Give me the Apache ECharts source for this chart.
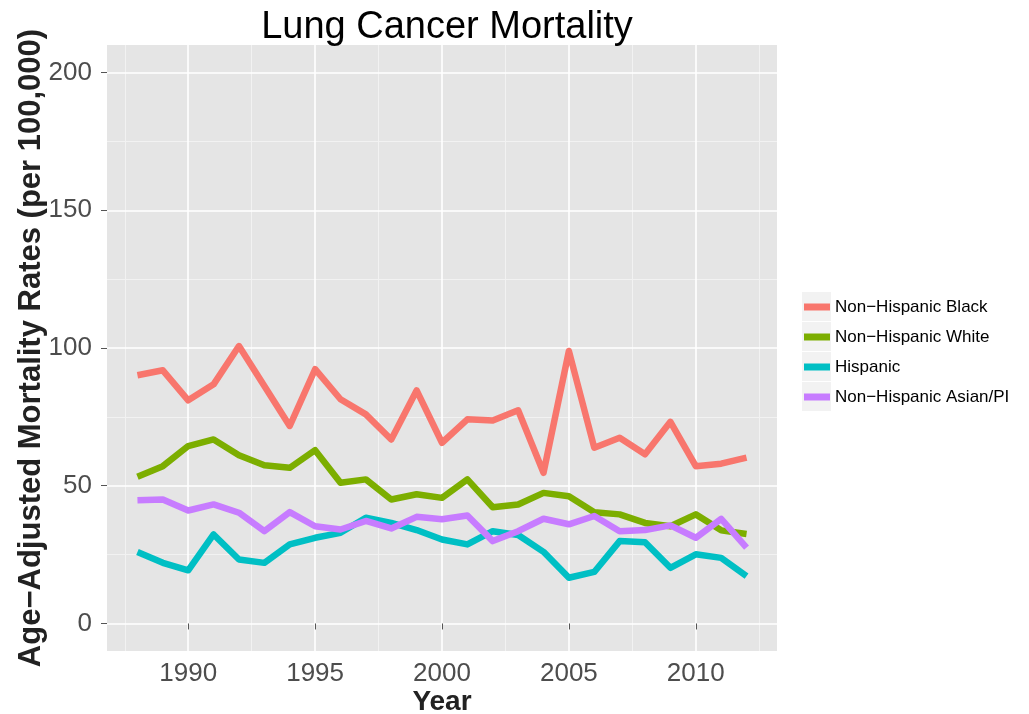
<!DOCTYPE html>
<html>
<head>
<meta charset="utf-8">
<script src="https://cdn.jsdelivr.net/npm/echarts@6/dist/echarts.min.js"></script>
<style>
  html, body { margin: 0; padding: 0; background: #fff; }
  #main { width: 1029px; height: 714px; }
</style>
</head>
<body>
<div id="main"></div>
<script>
// data
var years = [1988, 1989, 1990, 1991, 1992, 1993, 1994, 1995, 1996, 1997, 1998, 1999, 2000,
             2001, 2002, 2003, 2004, 2005, 2006, 2007, 2008, 2009, 2010, 2011, 2012];
var nhBlack = [90.1, 91.9, 81.0, 86.8, 100.7, 86.2, 71.7, 92.3, 81.4, 75.9, 66.8, 84.6, 65.6,
               74.1, 73.7, 77.4, 54.7, 98.9, 63.8, 67.4, 61.4, 73.2, 57.1, 58.0, 60.2];
var nhWhite = [53.3, 57.1, 64.4, 66.8, 61.1, 57.4, 56.5, 62.9, 51.1, 52.3, 45.0, 46.9, 45.6,
               52.3, 42.2, 43.2, 47.4, 46.2, 40.4, 39.6, 36.5, 35.3, 39.6, 33.8, 32.5];
var hispanic = [25.9, 22.0, 19.3, 32.3, 23.2, 22.0, 28.7, 31.1, 32.9, 38.4, 36.5, 33.9, 30.5,
                28.7, 33.5, 32.1, 26.0, 16.6, 18.7, 29.9, 29.5, 20.2, 25.1, 23.8, 17.2];
var nhAsian = [44.7, 45.0, 41.0, 43.2, 40.2, 33.5, 40.4, 35.3, 34.1, 37.2, 34.5, 38.7, 37.8,
               39.2, 29.9, 33.5, 38.0, 36.0, 39.0, 33.5, 33.9, 35.6, 31.1, 38.0, 27.5];

var seriesNames = ['Non\u2212Hispanic Black', 'Non\u2212Hispanic White', 'Hispanic', 'Non\u2212Hispanic Asian/PI'];
var seriesData = [nhBlack, nhWhite, hispanic, nhAsian];
var colors = ['#F8766D', '#7CAE00', '#00BFC4', '#C77CFF'];

var xTicks = [1990, 1995, 2000, 2005, 2010];
var xMinor = [1987.5, 1992.5, 1997.5, 2002.5, 2007.5, 2012.5];
var yTicks = [0, 50, 100, 150, 200];
var yMinor = [25, 75, 125, 175];

var FONT = '"Liberation Sans", Arial, Helvetica, sans-serif';

var myChart = echarts.init(document.getElementById('main'));

function pairs(vals) {
    return years.map(function (y, i) { return [y, vals[i]]; });
}

var series = seriesNames.map(function (name, i) {
    return {
        name: name,
        type: 'line',
        data: pairs(seriesData[i]),
        showSymbol: false,
        symbol: 'none',
        lineStyle: { color: colors[i], width: 6.5, cap: 'butt', join: 'round' },
        itemStyle: { color: colors[i] },
        z: 3
    };
});

// grey key boxes behind legend swatches, like ggplot
var keyBoxes = seriesNames.map(function (n, i) {
    return {
        type: 'rect',
        left: 802, top: 292 + i * 30,
        shape: { width: 29, height: 29 },
        style: { fill: '#F2F2F2' },
        z: 0
    };
});

var option = {
    animation: false,
    backgroundColor: '#ffffff',
    title: {
        text: 'Lung Cancer Mortality',
        left: 442,
        textAlign: 'center',
        top: 4,
        textStyle: { fontFamily: FONT, fontSize: 38, fontWeight: 'normal', color: '#000' }
    },
    grid: {
        left: 107, top: 45, right: 252, bottom: 63,
        outerBoundsMode: 'none',
        containLabel: false,
        show: true, backgroundColor: '#E5E5E5', borderWidth: 0
    },
    legend: {
        orient: 'vertical',
        left: 804,
        top: 297,
        padding: 0,
        itemGap: 10,
        itemWidth: 26,
        itemHeight: 7,
        icon: 'rect',
        data: seriesNames,
        textStyle: { fontFamily: FONT, fontSize: 17, color: '#000', lineHeight: 20 }
    },
    graphic: keyBoxes,
    xAxis: [{
        type: 'value',
        min: 1986.8, max: 2013.2,
        name: 'Year',
        nameLocation: 'middle',
        nameGap: 37,
        nameMoveOverlap: false,
        nameTextStyle: { fontFamily: FONT, fontSize: 28, fontWeight: 'bold', color: '#222' },
        axisLine: { show: false },
        axisTick: { show: true, customValues: xTicks, length: 6, lineStyle: { color: '#555', width: 1 } },
        axisLabel: {
            customValues: xTicks, margin: 10, fontFamily: FONT, fontSize: 26, color: '#4d4d4d',
            formatter: function (v) { return String(v); }
        },
        splitLine: { show: true, lineStyle: { color: '#ffffff', width: 1.6 } },
        z: 2
    }, {
        type: 'value',
        min: 1986.8, max: 2013.2,
        axisLine: { show: false },
        axisTick: { show: false, customValues: xMinor },
        axisLabel: { show: false, customValues: xMinor },
        splitLine: { show: true, lineStyle: { color: '#F2F2F2', width: 1 } },
        z: 1
    }],
    yAxis: [{
        type: 'value',
        min: -10, max: 210,
        name: 'Age\u2212Adjusted Mortality Rates (per 100,000)',
        nameLocation: 'middle',
        nameRotate: 90,
        nameGap: 60,
        nameMoveOverlap: false,
        nameTextStyle: { fontFamily: FONT, fontSize: 31, fontWeight: 'bold', color: '#222' },
        axisLine: { show: false },
        axisTick: { show: true, customValues: yTicks, length: 6, lineStyle: { color: '#555', width: 1 } },
        axisLabel: { customValues: yTicks, margin: 15, fontFamily: FONT, fontSize: 26, color: '#4d4d4d' },
        splitLine: { show: true, lineStyle: { color: '#ffffff', width: 1.6 } },
        z: 2
    }, {
        type: 'value',
        min: -10, max: 210,
        position: 'left',
        axisLine: { show: false },
        axisTick: { show: false, customValues: yMinor },
        axisLabel: { show: false, customValues: yMinor },
        splitLine: { show: true, lineStyle: { color: '#F2F2F2', width: 1 } },
        z: 1
    }],
    series: series
};

myChart.setOption(option);
</script>
</body>
</html>
